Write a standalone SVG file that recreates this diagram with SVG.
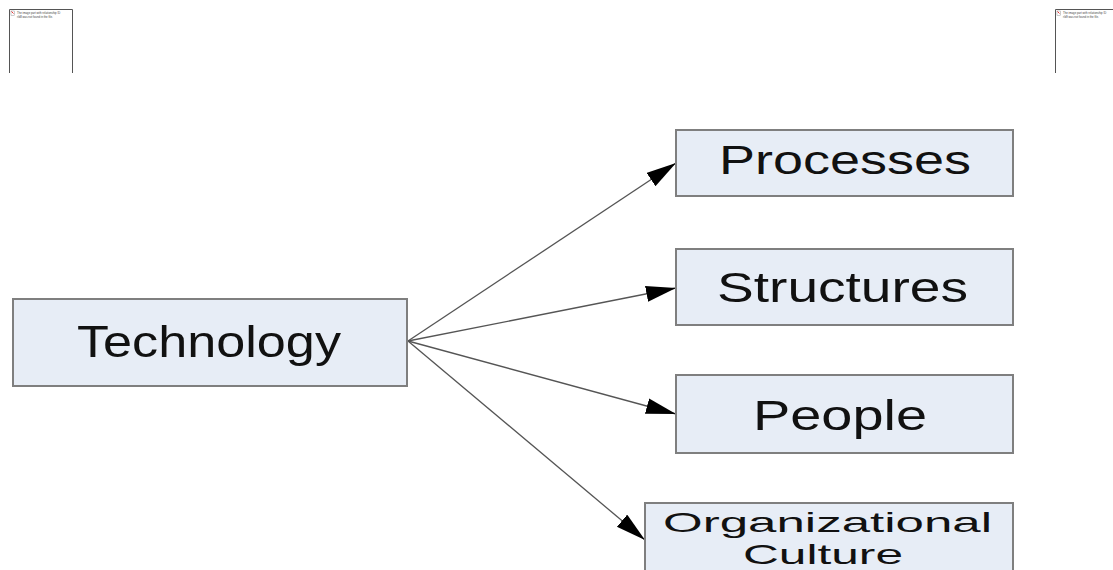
<svg xmlns="http://www.w3.org/2000/svg" width="1113" height="570" viewBox="0 0 1113 570">
  <style>
    .box { fill: #E7EDF6; stroke: #7F7F7F; stroke-width: 2; }
    .lbl { font-family: "Liberation Sans", Arial, sans-serif; fill: #111; }
    .conn { stroke: #555; stroke-width: 1.3; fill: none; marker-end: url(#arr); }
    .phb { stroke: #555; stroke-width: 1; fill: none; }
    .pht { font-family: "Liberation Sans", Arial, sans-serif; font-size: 2.8px; fill: #444; }
  </style>
  <defs>
    <marker id="arr" markerUnits="userSpaceOnUse" markerWidth="32" markerHeight="18" refX="30" refY="8" orient="auto">
      <path d="M0,0 L30,8 L0,16 Z" fill="#000"/>
    </marker>
  </defs>
  <rect width="1113" height="570" fill="#fff"/>

  <g id="placeholder-left">
    <path class="phb" d="M9.5,73 V9.5 H72.5 V73"/>
    <rect x="11" y="11" width="3.5" height="4.5" fill="#fff" stroke="#999" stroke-width="0.5"/>
    <path d="M11.5,11.5 L13.5,13.5" stroke="#e33" stroke-width="1"/>
    <text class="pht" x="17" y="14">The image part with relationship ID</text>
    <text class="pht" x="17" y="17.5">rId8 was not found in the file.</text>
  </g>
  <g id="placeholder-right">
    <path class="phb" d="M1055.5,73 V9.5 H1113"/>
    <rect x="1057" y="11" width="3.5" height="4.5" fill="#fff" stroke="#999" stroke-width="0.5"/>
    <path d="M1057.5,11.5 L1059.5,13.5" stroke="#e33" stroke-width="1"/>
    <text class="pht" x="1063" y="14">The image part with relationship ID</text>
    <text class="pht" x="1063" y="17.5">rId9 was not found in the file.</text>
  </g>

  <g id="connectors">
    <line class="conn" x1="408" y1="341" x2="676" y2="163"/>
    <line class="conn" x1="408" y1="341" x2="676" y2="288"/>
    <line class="conn" x1="408" y1="341" x2="676" y2="414"/>
    <line class="conn" x1="408" y1="341" x2="645" y2="540"/>
  </g>

  <g id="technology">
    <rect class="box" x="13" y="299" width="394" height="87"/>
    <text class="lbl" x="77" y="357" font-size="45" textLength="264" lengthAdjust="spacingAndGlyphs">Technology</text>
  </g>
  <g id="processes">
    <rect class="box" x="676" y="130" width="337" height="66"/>
    <text class="lbl" x="719" y="174" font-size="41" textLength="252" lengthAdjust="spacingAndGlyphs">Processes</text>
  </g>
  <g id="structures">
    <rect class="box" x="676" y="249" width="337" height="76"/>
    <text class="lbl" x="717" y="302" font-size="42" textLength="251" lengthAdjust="spacingAndGlyphs">Structures</text>
  </g>
  <g id="people">
    <rect class="box" x="676" y="375" width="337" height="78"/>
    <text class="lbl" x="753" y="430" font-size="42" textLength="174" lengthAdjust="spacingAndGlyphs">People</text>
  </g>
  <g id="organizational-culture">
    <rect class="box" x="645" y="503" width="368" height="80"/>
    <text class="lbl" x="663" y="532" font-size="28.5" textLength="329" lengthAdjust="spacingAndGlyphs">Organizational</text>
    <text class="lbl" x="743" y="564" font-size="28.5" textLength="160" lengthAdjust="spacingAndGlyphs">Culture</text>
  </g>
</svg>
